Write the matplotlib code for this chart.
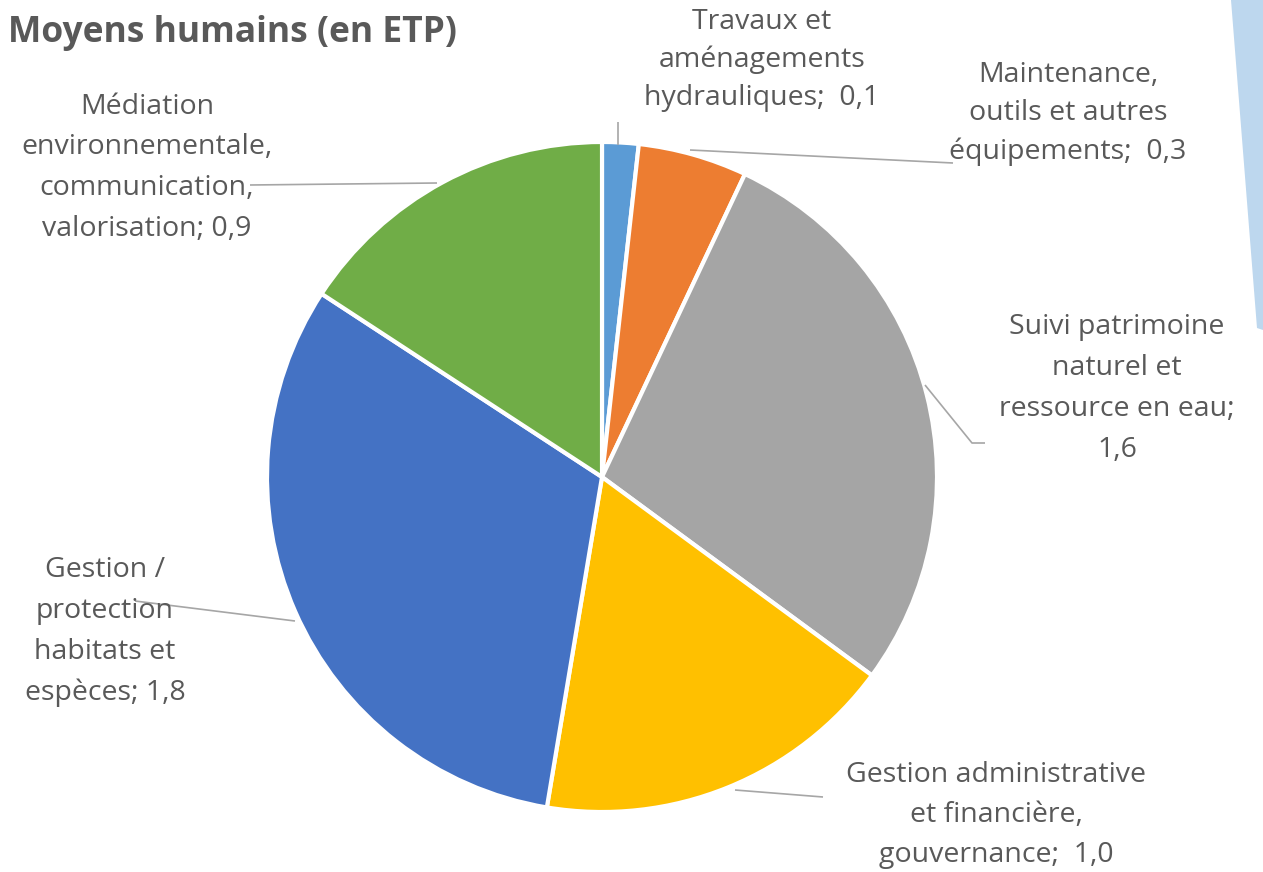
import matplotlib
matplotlib.use("Agg")
import matplotlib.pyplot as plt
from matplotlib.patches import Polygon

plt.rcParams['font.family'] = ['Open Sans', 'DejaVu Sans']

# Data (clockwise from top)
categories = [
    "Travaux et\naménagements\nhydrauliques;  0,1",
    "Maintenance,\noutils et autres\néquipements;  0,3",
    "Suivi patrimoine\nnaturel et\nressource en eau;\n1,6",
    "Gestion administrative\net financière,\ngouvernance;  1,0",
    "Gestion /\nprotection\nhabitats et\nespèces; 1,8",
    "Médiation\nenvironnementale,\ncommunication,\nvalorisation; 0,9",
]
values = [0.1, 0.3, 1.6, 1.0, 1.8, 0.9]
colors = ["#5B9BD5", "#ED7D31", "#A5A5A5", "#FFC000", "#4472C4", "#70AD47"]
title = "Moyens humains (en ETP)"

W, H = 1263, 872
fig = plt.figure(figsize=(W / 100, H / 100), dpi=100)
ax = fig.add_axes([0, 0, 1, 1])

def Y(y):
    return H - y

cx, cy, R = 602, 477, 335
ax.pie(values, colors=colors, startangle=90, counterclock=False,
       center=(cx, Y(cy)), radius=R,
       wedgeprops=dict(edgecolor="white", linewidth=3))

ax.set_xlim(0, W)
ax.set_ylim(0, H)
ax.set_aspect('auto')
ax.axis('off')

# decorative light-blue shape at right edge
ax.add_patch(Polygon([(1231, Y(0)), (1263, Y(0)), (1263, Y(330)), (1257, Y(328))],
                     closed=True, facecolor="#BDD7EE", edgecolor="none"))

txt_color = "#595959"
fs = 20.5
# label centers (x) and first-line y, line spacing
label_pos = [
    (762, 22, 38),
    (1068, 75, 38.5),
    (1117, 327, 41),
    (996, 775, 40),
    (105, 570, 41),
    (147, 107, 40.5),
]
for text, (x, y0, dy) in zip(categories, label_pos):
    for i, line in enumerate(text.split("\n")):
        ax.text(x, Y(y0 + i * dy), line, ha="center", va="center",
                fontsize=fs, color=txt_color)

# leader lines
leaders = [
    [(618, 122), (618, 145)],
    [(690, 150), (953, 163)],
    [(925, 385), (972, 443), (985, 443)],
    [(735, 790), (823, 797)],
    [(295, 621), (135, 601)],
    [(437, 183), (250, 185)],
]
for pts in leaders:
    xs = [p[0] for p in pts]
    ys = [Y(p[1]) for p in pts]
    ax.plot(xs, ys, color="#A6A6A6", linewidth=1.2, solid_capstyle="butt")

ax.text(8, Y(33), title, ha="left", va="center", fontsize=25.5,
        fontweight="bold", color=txt_color)

fig.savefig("out.png", dpi=100)
